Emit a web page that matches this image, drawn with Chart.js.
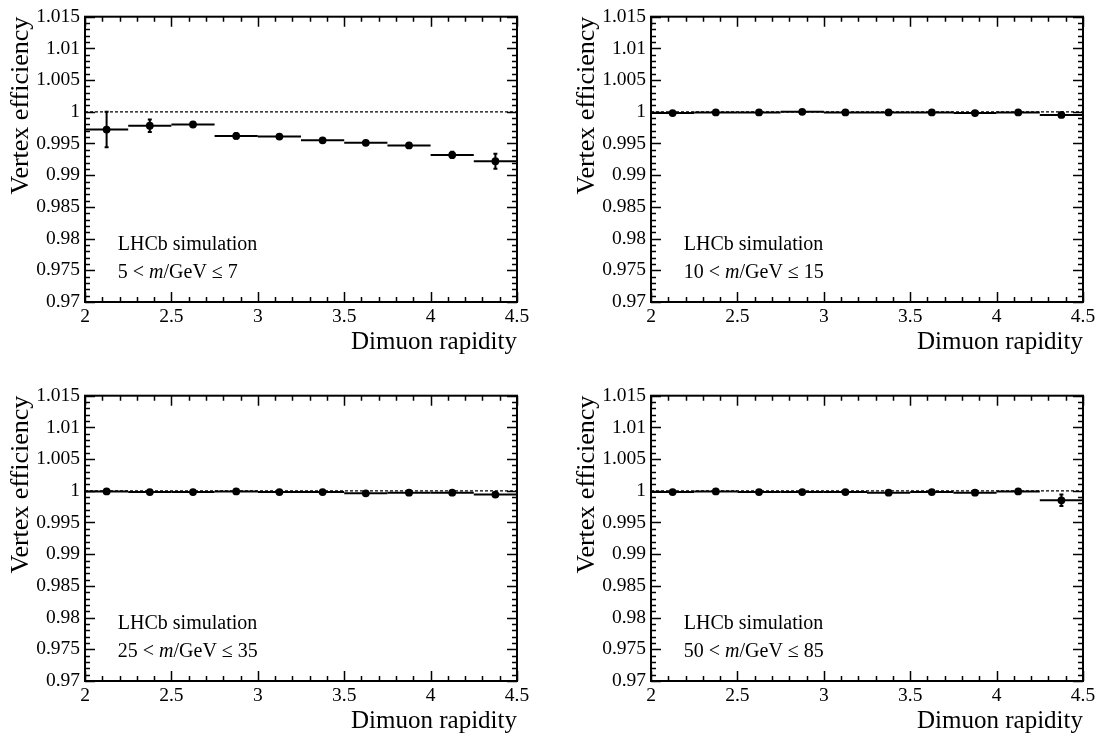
<!DOCTYPE html>
<html>
<head>
<meta charset="utf-8">
<script src="https://cdn.jsdelivr.net/npm/chart.js@4.4.1/dist/chart.umd.min.js"></script>
<style>
  body { margin: 0; background: #fff; }
  canvas { position: absolute; }
</style>
</head>
<body>
<canvas id="c1" width="536" height="361" style="left:0px;top:0px"></canvas>
<canvas id="c2" width="536" height="361" style="left:566px;top:0px"></canvas>
<canvas id="c3" width="536" height="361" style="left:0px;top:379px"></canvas>
<canvas id="c4" width="536" height="361" style="left:566px;top:379px"></canvas>
<script>
// Dimuon rapidity bins
const binEdges   = [2.0, 2.25, 2.5, 2.75, 3.0, 3.25, 3.5, 3.75, 4.0, 4.25, 4.5];
const binCenters = [2.125, 2.375, 2.625, 2.875, 3.125, 3.375, 3.625, 3.875, 4.125, 4.375];

// Vertex efficiency per mass window (value, uncertainty)
const eff5to7   = [0.9972, 0.9978, 0.9980, 0.9962, 0.9961, 0.9955, 0.9951, 0.9947, 0.9932, 0.9922];
const err5to7   = [0.0028, 0.0010, 0.0003, 0.0004, 0.0002, 0.0002, 0.0002, 0.0002, 0.0005, 0.0012];
const eff10to15 = [0.9998, 0.9999, 0.9999, 1.0000, 0.9999, 0.9999, 0.9999, 0.9998, 0.9999, 0.9995];
const err10to15 = [0.0001, 0.0001, 0.0001, 0.0001, 0.0001, 0.0001, 0.0001, 0.0001, 0.0001, 0.0002];
const eff25to35 = [0.9999, 0.9998, 0.9998, 0.9999, 0.9998, 0.9998, 0.9996, 0.9997, 0.9997, 0.9994];
const err25to35 = [0.0001, 0.0001, 0.0001, 0.0001, 0.0001, 0.0001, 0.0001, 0.0001, 0.0001, 0.0002];
const eff50to85 = [0.9998, 0.9999, 0.9998, 0.9998, 0.9998, 0.9997, 0.9998, 0.9997, 0.9999, 0.9985];
const err50to85 = [0.0001, 0.0001, 0.0001, 0.0001, 0.0001, 0.0001, 0.0001, 0.0001, 0.0001, 0.0009];

// Axis ranges and tick labels
const xRange = [2, 4.5];
const yRange = [0.97, 1.015];
const xMajorStep = 0.5;
const yMajorStep = 0.005;

const panels = [
    { id: 'c1', eff: eff5to7,   err: err5to7,   mLow: '5',  mHigh: '7' },
    { id: 'c2', eff: eff10to15, err: err10to15, mLow: '10', mHigh: '15' },
    { id: 'c3', eff: eff25to35, err: err25to35, mLow: '25', mHigh: '35' },
    { id: 'c4', eff: eff50to85, err: err50to85, mLow: '50', mHigh: '85' }
];

const FONT = 'Liberation Serif';

// Frame, inward ticks, reference line, error bars and labels (ROOT style)
const rootStylePlugin = {
    id: 'rootStyle',
    beforeDatasetsDraw(chart) {
        const ctx = chart.ctx;
        const xs = chart.scales.x, ys = chart.scales.y;
        const p = chart.config.options.plugins.rootStyle;

        // dashed line at efficiency = 1
        ctx.save();
        ctx.strokeStyle = '#000';
        ctx.lineWidth = 1.2;
        ctx.setLineDash([3, 2]);
        ctx.beginPath();
        ctx.moveTo(xs.getPixelForValue(xRange[0]), ys.getPixelForValue(1));
        ctx.lineTo(xs.getPixelForValue(xRange[1]), ys.getPixelForValue(1));
        ctx.stroke();
        ctx.restore();

        // error bars: bin width horizontally, uncertainty vertically
        ctx.save();
        ctx.strokeStyle = '#000';
        ctx.lineWidth = 2;
        p.eff.forEach((v, i) => {
            const y = ys.getPixelForValue(v);
            ctx.beginPath();
            ctx.moveTo(xs.getPixelForValue(binEdges[i]), y);
            ctx.lineTo(xs.getPixelForValue(binEdges[i + 1]), y);
            ctx.stroke();
            const x = xs.getPixelForValue(binCenters[i]);
            const yHi = ys.getPixelForValue(v + p.err[i]);
            const yLo = ys.getPixelForValue(v - p.err[i]);
            ctx.beginPath();
            ctx.moveTo(x, yHi);
            ctx.lineTo(x, yLo);
            ctx.moveTo(x - 2, yHi); ctx.lineTo(x + 2, yHi);
            ctx.moveTo(x - 2, yLo); ctx.lineTo(x + 2, yLo);
            ctx.stroke();
        });
        ctx.restore();
    },
    afterDraw(chart) {
        const ctx = chart.ctx;
        const xs = chart.scales.x, ys = chart.scales.y;
        const a = chart.chartArea;
        const p = chart.config.options.plugins.rootStyle;

        ctx.save();
        ctx.strokeStyle = '#000';
        ctx.lineWidth = 2;
        ctx.strokeRect(a.left, a.top, a.right - a.left, a.bottom - a.top);

        ctx.lineWidth = 1.5;
        ctx.beginPath();
        // x ticks: major every 0.5, minor every 0.1
        for (let i = 0; i <= 25; i++) {
            const x = Math.round(xs.getPixelForValue(xRange[0] + i * 0.1)) + 0.5;
            const len = i % 5 === 0 ? 10 : 5;
            ctx.moveTo(x, a.bottom); ctx.lineTo(x, a.bottom - len);
            ctx.moveTo(x, a.top);    ctx.lineTo(x, a.top + len);
        }
        // y ticks: major every 0.005, minor every 0.001
        for (let i = 0; i <= 45; i++) {
            const y = Math.round(ys.getPixelForValue(yRange[0] + i * 0.001)) + 0.5;
            const len = i % 5 === 0 ? 10 : 5;
            ctx.moveTo(a.left, y);  ctx.lineTo(a.left + len, y);
            ctx.moveTo(a.right, y); ctx.lineTo(a.right - len, y);
        }
        ctx.stroke();

        // LHCb label and mass window
        ctx.fillStyle = '#000';
        ctx.textBaseline = 'middle';
        ctx.textAlign = 'left';
        const tx = xs.getPixelForValue(2.19);
        ctx.font = `20px "${FONT}"`;
        ctx.fillText('LHCb simulation', tx, ys.getPixelForValue(0.9790));
        const ly = ys.getPixelForValue(0.97467);
        let cx = tx;
        const part1 = p.mLow + ' < ';
        ctx.fillText(part1, cx, ly);
        cx += ctx.measureText(part1).width;
        ctx.font = `italic 20px "${FONT}"`;
        ctx.fillText('m', cx, ly);
        cx += ctx.measureText('m').width;
        ctx.font = `20px "${FONT}"`;
        ctx.fillText('/GeV \u2264 ' + p.mHigh, cx, ly);
        ctx.restore();
    }
};

const fmt = v => String(+Number(v).toFixed(3));

function makePanel(panel) {
    const ctx = document.getElementById(panel.id).getContext('2d');
    const points = binCenters.map((x, i) => ({ x: x, y: panel.eff[i] }));
    return new Chart(ctx, {
        type: 'scatter',
        data: {
            datasets: [{
                data: points,
                pointRadius: 3.9,
                pointBackgroundColor: '#000',
                pointBorderWidth: 0,
                showLine: false
            }]
        },
        options: {
            responsive: false,
            animation: false,
            devicePixelRatio: 1,
            layout: { padding: { top: 13, right: 19, left: 0, bottom: 0 } },
            plugins: {
                legend: { display: false },
                tooltip: { enabled: false },
                rootStyle: panel
            },
            scales: {
                x: {
                    type: 'linear',
                    min: xRange[0], max: xRange[1],
                    border: { display: false },
                    grid: { display: false, drawTicks: false },
                    ticks: {
                        stepSize: xMajorStep, padding: 3, color: '#000',
                        maxRotation: 0, autoSkip: false,
                        font: { family: FONT, size: 19.5 },
                        callback: fmt
                    },
                    title: {
                        display: true, text: 'Dimuon rapidity', align: 'end', color: '#000',
                        font: { family: FONT, size: 25 }, padding: { top: 0, bottom: 4 }
                    },
                    afterFit: s => { s.height = 59; }
                },
                y: {
                    type: 'linear',
                    min: yRange[0], max: yRange[1],
                    border: { display: false },
                    grid: { display: false, drawTicks: false },
                    ticks: {
                        stepSize: yMajorStep, padding: 5, color: '#000',
                        autoSkip: false,
                        font: { family: FONT, size: 19.5 },
                        callback: fmt
                    },
                    title: {
                        display: true, text: 'Vertex efficiency', align: 'end', color: '#000',
                        font: { family: FONT, size: 26 }, padding: { top: 6, bottom: 0 }
                    },
                    afterFit: s => { s.width = 85; }
                }
            }
        },
        plugins: [rootStylePlugin]
    });
}

panels.forEach(makePanel);
</script>
</body>
</html>
